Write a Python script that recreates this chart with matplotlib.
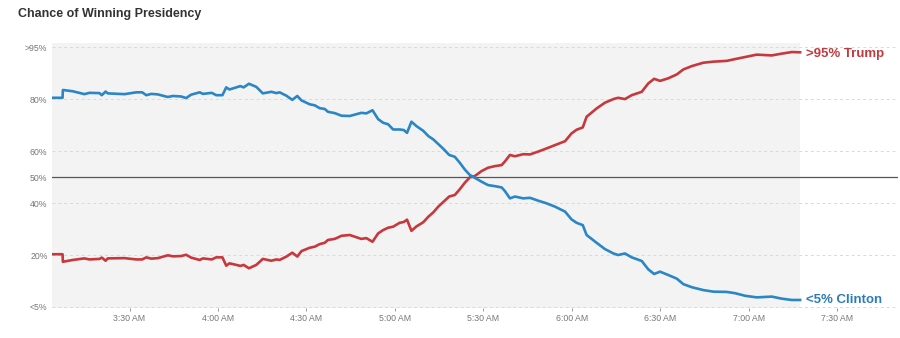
# Imports
import pandas as pd
from matplotlib import pyplot as plt
import matplotlib.dates as mdates

plt.rcParams['font.family'] = ['Liberation Sans', 'DejaVu Sans']

# Data: minutes after 3:00 AM, chance of winning (%)
minutes = [3.6, 7.3, 7.4, 10.8, 14.7, 16.4, 19.8, 20.6, 21.9, 22.6,
           28.3, 32.3, 34.3, 35.7, 37.4, 39.6, 43.0, 44.7, 47.5, 49.2,
           50.9, 53.8, 54.9, 57.9, 59.4, 61.5, 62.8, 63.9, 66.2, 67.6,
           68.7, 70.5, 73.0, 75.2, 78.1, 79.8, 80.9, 83.2, 85.2, 86.9,
           88.3, 91.1, 92.8, 94.5, 96.2, 97.3, 99.6, 101.9, 104.7, 108.6,
           110.3, 112.4, 114.3, 116.0, 117.7, 119.4, 121.6, 123.0, 124.1, 125.6,
           127.3, 129.6, 131.3, 133.0, 134.7, 136.3, 138.4, 140.3, 142.0, 143.7,
           145.4, 147.1, 149.4, 151.6, 153.9, 156.2, 157.3, 159.0, 160.7, 163.5,
           165.8, 168.6, 171.4, 174.3, 177.7, 179.9, 181.6, 183.7, 185.0, 188.4,
           191.2, 194.1, 195.7, 198.0, 200.3, 203.7, 205.9, 207.9, 209.9, 212.7,
           215.6, 217.8, 220.7, 224.6, 228.0, 232.5, 235.4, 238.8, 242.7, 247.8,
           251.2, 254.6, 257.4]
clinton = [80.5, 80.5, 83.5, 83.0, 81.9, 82.4, 82.3, 81.5, 82.9, 82.2,
           81.9, 82.6, 82.6, 81.5, 82.0, 81.8, 80.8, 81.2, 81.0, 80.4,
           81.7, 82.6, 82.0, 82.4, 81.5, 81.5, 84.5, 83.7, 84.5, 85.0,
           84.5, 85.9, 84.7, 82.2, 82.8, 82.3, 82.6, 81.3, 79.7, 81.2,
           79.5, 78.0, 77.6, 76.5, 76.2, 75.1, 74.6, 73.6, 73.5, 74.7,
           74.5, 75.7, 72.3, 70.9, 70.3, 68.3, 68.3, 68.1, 67.0, 71.3,
           69.6, 67.8, 65.8, 64.5, 62.7, 61.0, 58.5, 57.8, 55.5, 52.9,
           50.8, 49.7, 48.2, 46.9, 46.5, 46.0, 44.6, 41.8, 42.5, 41.8,
           42.0, 40.9, 39.9, 38.6, 36.7, 33.7, 32.4, 31.5, 27.7, 24.7,
           22.3, 20.6, 20.0, 20.6, 19.1, 17.7, 14.5, 12.7, 13.6, 12.3,
           10.9, 8.8, 7.6, 6.5, 5.9, 5.8, 5.3, 4.3, 3.7, 4.0,
           3.2, 2.7, 2.7]
trump = [20.3, 20.3, 17.4, 18.1, 18.7, 18.3, 18.5, 19.0, 17.8, 18.7,
         18.8, 18.3, 18.3, 19.1, 18.6, 18.8, 19.9, 19.5, 19.6, 20.1,
         19.0, 18.1, 18.7, 18.3, 19.1, 19.1, 15.9, 16.8, 16.2, 15.8,
         16.2, 14.9, 16.2, 18.5, 17.8, 18.3, 18.1, 19.4, 20.9, 19.4,
         21.5, 22.8, 23.2, 24.2, 24.7, 25.8, 26.2, 27.4, 27.7, 26.2,
         26.5, 25.1, 28.3, 29.6, 30.5, 30.9, 32.4, 32.7, 33.6, 29.3,
         31.0, 32.6, 34.7, 36.4, 38.6, 40.3, 42.5, 43.1, 45.3, 47.8,
         49.9, 50.4, 52.3, 53.6, 54.2, 54.6, 56.0, 58.5, 58.0, 58.8,
         58.7, 59.8, 61.0, 62.3, 63.8, 66.8, 68.2, 69.1, 73.2, 76.4,
         78.6, 80.0, 80.5, 80.0, 81.5, 82.8, 86.0, 87.8, 87.0, 88.0,
         89.5, 91.4, 92.7, 94.0, 94.4, 94.7, 95.4, 96.2, 97.1, 96.8,
         97.5, 98.1, 98.0]
y_ticks = [0, 20, 40, 50, 60, 80, 100]
y_labels = ['<5%', '20%', '40%', '50%', '60%', '80%', '>95%']

times = pd.Timestamp('2016-11-09 03:00') + pd.to_timedelta(minutes, unit='min')
axis_end = pd.Timestamp('2016-11-09 07:50:40')

# Dimensions
fig = plt.figure(figsize=(9, 3.38), dpi=100)
ax = fig.add_axes([0.0574, 0.0902, 0.9406, 0.7835])

# Shaded region behind the data
ax.axvspan(times[0], times[-1], color='#f3f3f3', lw=0, zorder=0)

# Grid
for yv in y_ticks:
    if yv == 50:
        ax.axhline(yv, color='#555555', lw=0.9, zorder=1)
    else:
        ax.axhline(yv, color='#d9d9d9', lw=0.7, ls=(0, (3, 3)), zorder=1)

# Plotting
red = '#c7383d'
blue = '#2a86c4'
ax.plot(times, trump, color=red, lw=1.9, zorder=3, solid_joinstyle='round')
ax.plot(times, clinton, color=blue, lw=1.9, zorder=3, solid_joinstyle='round')

ax.annotate('>95% Trump', xy=(times[-1], trump[-1]), xytext=(4, -1.5),
            textcoords='offset points', va='center', ha='left',
            color='#c03a3f', fontsize=9.5, fontweight='bold', annotation_clip=False)
ax.annotate('<5% Clinton', xy=(times[-1], clinton[-1]), xytext=(4, 0),
            textcoords='offset points', va='center', ha='left',
            color='#2c7cb8', fontsize=9.5, fontweight='bold', annotation_clip=False)

# Axes
ax.set_xlim(times[0], axis_end)
ax.set_ylim(-0.2, 101.7)
ax.set_yticks(y_ticks)
ax.set_yticklabels(y_labels)
ax.xaxis.set_major_locator(mdates.MinuteLocator(byminute=[0, 30]))
ax.xaxis.set_major_formatter(mdates.DateFormatter('%-I:%M %p'))
ax.tick_params(axis='y', length=0, pad=3, labelsize=6.3, labelcolor='#777777')
ax.tick_params(axis='x', length=2.5, width=0.7, color='#999999', pad=2,
               labelsize=6.3, labelcolor='#777777')
for s in ax.spines.values():
    s.set_visible(False)

# Title
fig.text(0.02, 0.958, 'Chance of Winning Presidency', fontsize=9,
         fontweight='bold', color='#333333', va='center', ha='left')

# Output
fig.savefig('out.png', dpi=100)
